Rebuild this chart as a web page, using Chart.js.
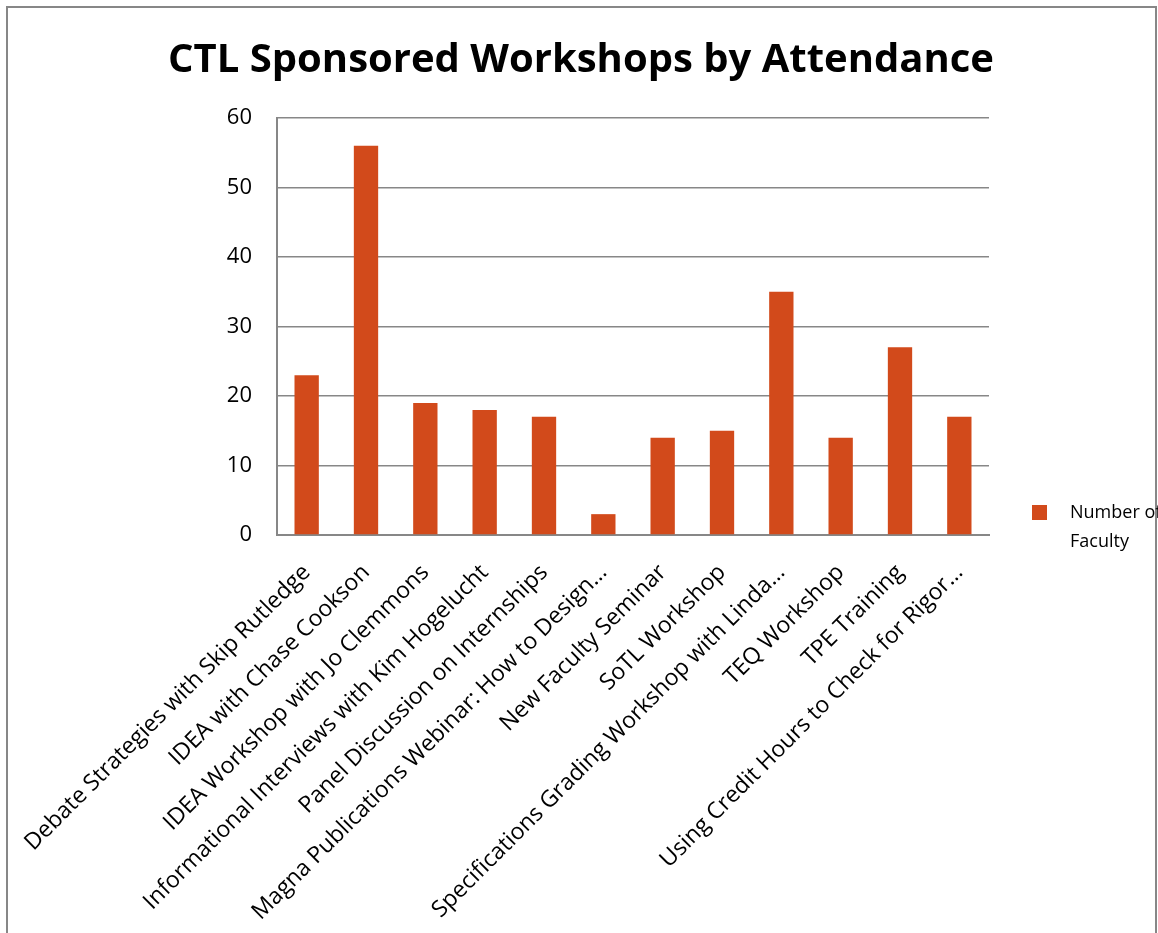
<!DOCTYPE html>
<html>
<head>
<meta charset="utf-8">
<script src="https://cdn.jsdelivr.net/npm/chart.js@4.4.1/dist/chart.umd.min.js"></script>
<style>
  html, body { margin: 0; padding: 0; background: #fff; overflow: hidden; }
  #frame { position: absolute; left: 6px; top: 6px; width: 1151px; height: 1000px;
           box-sizing: border-box; border: 2px solid #878787; }
  #wrap { position: absolute; left: 0; top: 0; width: 1158px; height: 933px; }
</style>
</head>
<body>
<div id="frame"></div>
<div id="wrap"><canvas id="chart" width="1158" height="933"></canvas></div>
<script>
// workshop names as shown on the axis (long ones are cut off in the original)
var categories = [
  'Debate Strategies with Skip Rutledge',
  'IDEA with Chase Cookson',
  'IDEA Workshop with Jo Clemmons',
  'Informational Interviews with Kim Hogelucht',
  'Panel Discussion on Internships',
  'Magna Publications Webinar: How to Design…',
  'New Faculty Seminar',
  'SoTL Workshop',
  'Specifications Grading Workshop with Linda…',
  'TEQ Workshop',
  'TPE Training',
  'Using Credit Hours to Check for Rigor…'
];
var attendance = [23, 56, 19, 18, 17, 3, 14, 15, 35, 14, 27, 17];
var seriesName = ['Number of', 'Faculty'];
var chartTitle = 'CTL Sponsored Workshops by Attendance';
var yMin = 0, yMax = 60, yStep = 10;

var barColor = '#D24A1B';
var gridColor = '#878787';
var fontFamily = '"Open Sans", Lato, sans-serif';

// title centred on the whole page, legend label wraps onto two lines
var extras = {
  id: 'extras',
  afterDraw: function(chart) {
    var ctx = chart.ctx;
    ctx.save();
    ctx.fillStyle = '#000';
    ctx.font = 'bold 40px ' + fontFamily;
    ctx.textAlign = 'center';
    ctx.textBaseline = 'alphabetic';
    ctx.fillText(chartTitle, 581, 72);

    ctx.fillStyle = barColor;
    ctx.fillRect(1032, 505, 15, 15);
    ctx.fillStyle = '#000';
    ctx.font = '18px ' + fontFamily;
    ctx.textAlign = 'left';
    for (var i = 0; i < seriesName.length; i++) {
      ctx.fillText(seriesName[i], 1070, 518 + i * 29);
    }
    ctx.restore();
  }
};

var ctx = document.getElementById('chart').getContext('2d');
var chart = new Chart(ctx, {
  type: 'bar',
  data: {
    labels: categories,
    datasets: [{
      label: seriesName.join(' '),
      data: attendance,
      backgroundColor: barColor,
      barPercentage: 0.41,
      categoryPercentage: 1.0
    }]
  },
  options: {
    responsive: false,
    animation: false,
    layout: { padding: { left: 0, right: 169, top: 118, bottom: 0 } },
    plugins: {
      legend: { display: false },
      tooltip: { enabled: false },
      title: { display: false }
    },
    scales: {
      x: {
        grid: { display: false, drawTicks: false },
        border: { display: true, color: gridColor, width: 2 },
        ticks: {
          color: '#000',
          font: { family: fontFamily, size: 23 },
          minRotation: 45,
          maxRotation: 45,
          autoSkip: false,
          padding: 24
        },
        afterFit: function(scale) {
          scale.height = 398;
          // long rotated labels must not push the plot area to the right
          scale.paddingLeft = 0;
          scale.paddingRight = 0;
        }
      },
      y: {
        min: yMin,
        max: yMax,
        ticks: {
          stepSize: yStep,
          color: '#000',
          font: { family: fontFamily, size: 22 },
          padding: 25
        },
        grid: { color: gridColor, lineWidth: 1.5, drawTicks: false },
        border: { display: true, color: gridColor, width: 2 },
        afterFit: function(scale) { scale.width = 277; }
      }
    }
  },
  plugins: [extras]
});
</script>
</body>
</html>
